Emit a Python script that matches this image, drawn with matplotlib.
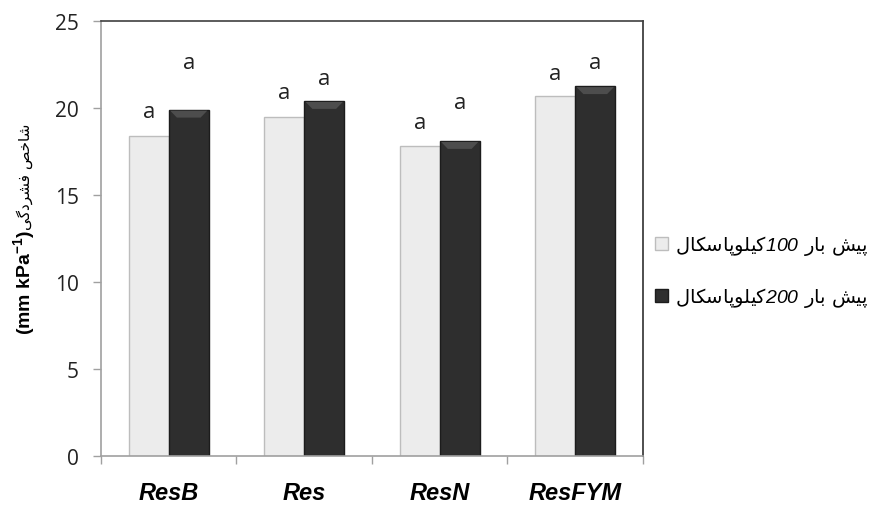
#coding utf-8

'''
شاخص فشردگی - نمودار ستونی
'''
import numpy as np
import matplotlib.pyplot as plt
from matplotlib.patches import Patch, Polygon

plt.rcParams['mathtext.fontset'] = 'custom'
plt.rcParams['mathtext.rm'] = 'Liberation Sans:italic'      # اعداد راهنما به صورت مورب
plt.rcParams['mathtext.it'] = 'Liberation Sans:italic'
plt.rcParams['mathtext.bf'] = 'Liberation Sans:bold'

categories = ['ResB', 'Res', 'ResN', 'ResFYM']
preload_100 = [18.4, 19.5, 17.8, 20.7]
preload_200 = [19.9, 20.4, 18.1, 21.25]
se_100 = [0.8, 0.8, 0.75, 0.7]          # خطای معیار (در نمودار پنهان)
se_200 = [2.1, 0.7, 1.6, 0.75]
letters_100 = ['a', 'a', 'a', 'a']
letters_200 = ['a', 'a', 'a', 'a']
yticks = [0, 5, 10, 15, 20, 25]

# اشکال حروف فارسی: (تنها, پایانی, آغازی, میانی)
FORMS = {
    'ا': ('\uFE8D', '\uFE8E'),
    'ب': ('\uFE8F', '\uFE90', '\uFE91', '\uFE92'),
    'پ': ('\uFB56', '\uFB57', '\uFB58', '\uFB59'),
    'خ': ('\uFEA5', '\uFEA6', '\uFEA7', '\uFEA8'),
    'د': ('\uFEA9', '\uFEAA'),
    'ر': ('\uFEAD', '\uFEAE'),
    'س': ('\uFEB1', '\uFEB2', '\uFEB3', '\uFEB4'),
    'ش': ('\uFEB5', '\uFEB6', '\uFEB7', '\uFEB8'),
    'ص': ('\uFEB9', '\uFEBA', '\uFEBB', '\uFEBC'),
    'ف': ('\uFED1', '\uFED2', '\uFED3', '\uFED4'),
    'ک': ('\uFB8E', '\uFB8F', '\uFB90', '\uFB91'),
    'گ': ('\uFB92', '\uFB93', '\uFB94', '\uFB95'),
    'ل': ('\uFEDD', '\uFEDE', '\uFEDF', '\uFEE0'),
    'و': ('\uFEED', '\uFEEE'),
    'ی': ('\uFBFC', '\uFBFD', '\uFBFE', '\uFBFF'),
}


def fa(text):
    # شکل دادن حروف و برگرداندن ترتیب برای نمایش راست به چپ
    out = []
    for i, c in enumerate(text):
        if c not in FORMS:
            out.append(c)
            continue
        prev = text[i - 1] if i > 0 else None
        nxt = text[i + 1] if i + 1 < len(text) else None
        join_prev = prev in FORMS and len(FORMS[prev]) == 4
        join_next = nxt in FORMS and len(FORMS[c]) == 4
        f = FORMS[c]
        if join_prev and join_next:
            out.append(f[3])
        elif join_prev:
            out.append(f[1])
        elif join_next:
            out.append(f[2])
        else:
            out.append(f[0])
    return ''.join(out)[::-1]


label_100 = fa('کیلوپاسکال') + r'$100$' + ' ' + fa('پیش بار')
label_200 = fa('کیلوپاسکال') + r'$200$' + ' ' + fa('پیش بار')

light = '#ececec'
light_edge = '#bdbdbd'
dark = '#2e2e2e'
dark_edge = '#1c1c1c'
bevel = '#4d4d4d'

fig = plt.figure(figsize=(8.76, 5.06), dpi=100)
ax = fig.add_axes([0.1153, 0.0968, 0.6187, 0.8597])

x = np.arange(len(categories))
w = 0.295
ax.bar(x - w / 2, preload_100, w, color=light, edgecolor=light_edge, linewidth=1.0, zorder=2)
ax.bar(x + w / 2, preload_200, w, color=dark, edgecolor=dark_edge, linewidth=1.0, zorder=2)

# لبه برجسته بالای ستون‌های تیره
for i in range(len(categories)):
    x0 = x[i] + w / 2 - w / 2
    x1 = x[i] + w / 2 + w / 2
    top = preload_200[i]
    ax.add_patch(Polygon([[x0 + 0.01, top - 0.05], [x1 - 0.01, top - 0.05],
                          [x1 - 0.06, top - 0.45], [x0 + 0.06, top - 0.45]],
                         closed=True, facecolor=bevel, edgecolor='none', zorder=3))

for i in range(len(categories)):
    ax.text(x[i] - w / 2, preload_100[i] + se_100[i] + 0.6, letters_100[i],
            ha='center', va='center', fontsize=16, family='Open Sans', color='#222222')
    ax.text(x[i] + w / 2, preload_200[i] + se_200[i] + 0.6, letters_200[i],
            ha='center', va='center', fontsize=16, family='Open Sans', color='#222222')

ax.set_xlim(-0.5, len(categories) - 0.5)
ax.set_ylim(0, 25)
ax.set_yticks(yticks)
ax.set_yticklabels([str(t) for t in yticks], family='Open Sans', fontsize=15, color='#222222')
ax.tick_params(axis='y', length=6, width=1, color='#a0a0a0', pad=10)

ax.set_xticks(np.arange(len(categories) + 1) - 0.5)
ax.set_xticklabels([])
ax.set_xticks(x, minor=True)
ax.set_xticklabels(categories, minor=True, family='Liberation Sans', fontweight='bold',
                   style='italic', fontsize=17)
ax.tick_params(axis='x', which='major', length=6, width=1, color='#a0a0a0')
ax.tick_params(axis='x', which='minor', length=0, pad=18)

ax.spines['left'].set_color('#a0a0a0')
ax.spines['bottom'].set_color('#a0a0a0')
ax.spines['top'].set_color('#404040')
ax.spines['right'].set_color('#303030')
for s in ax.spines.values():
    s.set_linewidth(1.2)

# عنوان محور عمودی
fig.text(0.028, 0.545, r'(mm kPa$^{\mathbf{-1}}$)', rotation=90, ha='center', va='top',
         family='Liberation Sans', fontweight='bold', fontsize=14)
fig.text(0.028, 0.545, fa('شاخص فشردگی'), rotation=90, ha='center', va='bottom',
         family='DejaVu Sans', fontsize=11)

handles = [Patch(facecolor=light, edgecolor=light_edge),
           Patch(facecolor=dark, edgecolor=dark_edge)]
fig.legend(handles, [label_100, label_200], loc='center left', bbox_to_anchor=(0.737, 0.462),
           frameon=False, borderpad=0, handlelength=0.65, handleheight=0.65,
           handletextpad=0.35, labelspacing=1.45, prop={'family': 'DejaVu Sans', 'size': 14})

fig.savefig('out.png', dpi=100)
